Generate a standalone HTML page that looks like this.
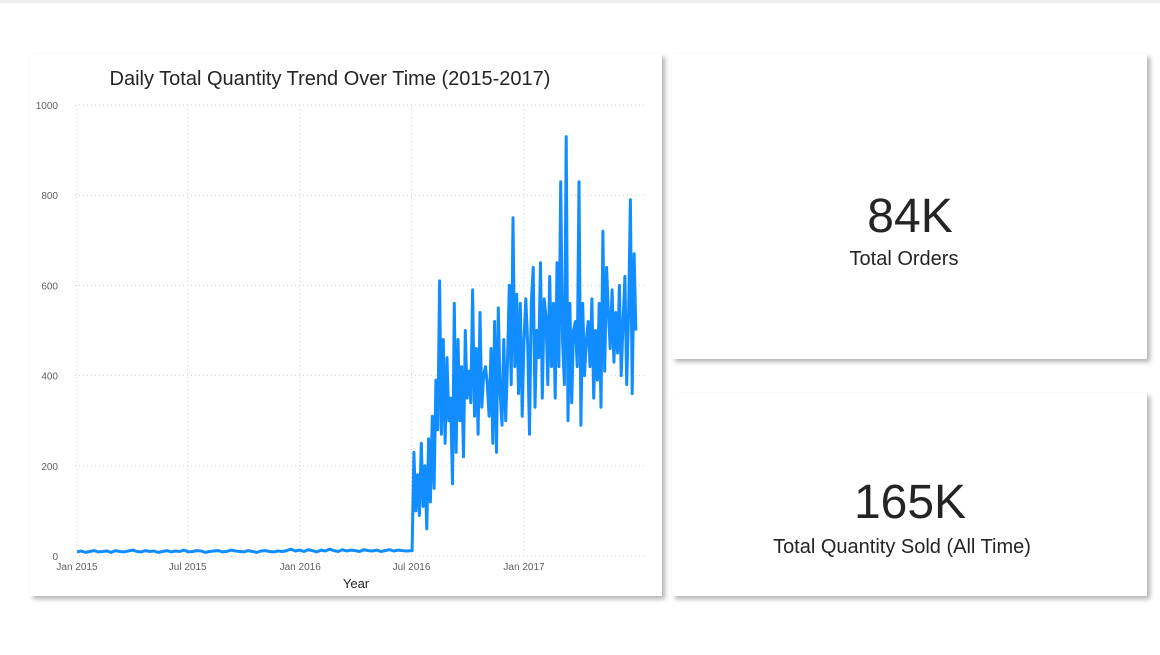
<!DOCTYPE html>
<html><head><meta charset="utf-8"><style>
body{margin:0;background:#fff;width:1160px;height:650px;overflow:hidden;font-family:"Liberation Sans","DejaVu Sans",sans-serif}
</style></head><body>
<svg width="1160" height="650" viewBox="0 0 1160 650" xmlns="http://www.w3.org/2000/svg">
<defs>
<filter id="sh" x="-5%" y="-5%" width="112%" height="115%"><feDropShadow dx="3" dy="3" stdDeviation="2.5" flood-color="#000" flood-opacity="0.3"/></filter>
</defs>
<rect x="0" y="0" width="1160" height="3" fill="#eeeeee"/>
<rect x="30" y="54" width="632" height="542" fill="#fff" filter="url(#sh)"/>
<rect x="672" y="54" width="475" height="305" fill="#fff" filter="url(#sh)"/>
<rect x="672" y="393" width="475" height="203" fill="#fff" filter="url(#sh)"/>
<text x="330" y="85" text-anchor="middle" font-size="20" fill="#252423">Daily Total Quantity Trend Over Time (2015-2017)</text>
<g id="grid"></g>
<g id="axes"></g>
<polyline id="line" fill="none" stroke="#118DFF" stroke-width="3" stroke-linejoin="round"/>
<text x="356" y="588" text-anchor="middle" font-size="13" fill="#252423">Year</text>
<text x="910" y="232" text-anchor="middle" font-size="48" fill="#252423">84K</text>
<text x="904" y="265" text-anchor="middle" font-size="20" fill="#252423">Total Orders</text>
<text x="910" y="518" text-anchor="middle" font-size="48" fill="#252423">165K</text>
<text x="902" y="553" text-anchor="middle" font-size="20" fill="#252423">Total Quantity Sold (All Time)</text>
</svg>
<script>
const yTicks=[0,200,400,600,800,1000];
const xTickLabels=["Jan 2015","Jul 2015","Jan 2016","Jul 2016","Jan 2017"];
const xTickDates=["2015-01-01","2015-07-01","2016-01-01","2016-07-01","2017-01-01"];
const flatStart="2015-01-01", flatStepDays=7;
const flatValues=[9,11,8,10,12,9,10,11,8,12,10,9,11,13,10,9,12,10,11,8,10,12,9,11,10,13,9,10,12,11,8,10,11,12,9,10,13,11,10,9,12,10,8,11,12,10,9,11,10,12,15,11,13,10,14,12,9,13,11,15,12,10,14,11,13,12,10,14,12,11,13,10,12,14,11,13,12,11];
const activeStart="2016-07-02", activeStepDays=3;
const activeValues=[12,230,100,180,90,250,110,200,60,260,
120,310,150,390,280,610,270,480,250,440,300,350,
160,560,230,480,300,420,220,500,350,410,
340,590,310,460,270,540,330,400,420,380,
310,460,250,520,230,550,360,290,480,300,
430,600,380,750,420,580,360,560,310,480,570,
470,270,560,640,330,500,440,650,350,570,
530,380,620,420,560,350,650,420,830,480,380,
930,300,560,340,500,520,420,830,290,560,400,
480,520,420,570,350,500,390,560,330,720,410,
640,540,460,590,430,540,450,600,400,520,
620,380,540,790,360,670,500];
const NS="http://www.w3.org/2000/svg";
const x0=new Date("2015-01-01").getTime(), x1=new Date("2017-01-01").getTime();
function xs(t){return 77+(t-x0)/(x1-x0)*447;}
function ys(v){return 556-v/1000*451;}
const grid=document.getElementById('grid'), axes=document.getElementById('axes');
yTicks.forEach(v=>{
 const l=document.createElementNS(NS,'line');
 l.setAttribute('x1',75);l.setAttribute('x2',645);l.setAttribute('y1',ys(v));l.setAttribute('y2',ys(v));
 l.setAttribute('stroke','#d0d0d0');l.setAttribute('stroke-dasharray','1 3');
 
 
 grid.appendChild(l);
 const t=document.createElementNS(NS,'text');
 t.setAttribute('x',58);t.setAttribute('y',ys(v)+4);t.setAttribute('text-anchor','end');
 t.setAttribute('font-size','10');t.setAttribute('fill','#605E5C');t.textContent=v;
 
 
 axes.appendChild(t);
});
xTickDates.forEach((d,i)=>{
 const x=xs(new Date(d).getTime());
 const l=document.createElementNS(NS,'line');
 l.setAttribute('x1',x);l.setAttribute('x2',x);l.setAttribute('y1',105);l.setAttribute('y2',556);
 l.setAttribute('stroke','#d0d0d0');l.setAttribute('stroke-dasharray','1 3');
 
 
 grid.appendChild(l);
 const t=document.createElementNS(NS,'text');
 t.setAttribute('x',x);t.setAttribute('y',570);t.setAttribute('text-anchor','middle');
 t.setAttribute('font-size','10');t.setAttribute('fill','#605E5C');t.textContent=xTickLabels[i];
 
 
 axes.appendChild(t);
});
const pts=[];const day=86400000;
const fs=new Date(flatStart).getTime();
flatValues.forEach((v,i)=>pts.push(xs(fs+i*flatStepDays*day).toFixed(1)+','+ys(v).toFixed(1)));
const as=new Date(activeStart).getTime();
activeValues.forEach((v,i)=>pts.push(xs(as+i*activeStepDays*day).toFixed(1)+','+ys(v).toFixed(1)));
document.getElementById('line').setAttribute('points',pts.join(' '));
</script>
</body></html>
